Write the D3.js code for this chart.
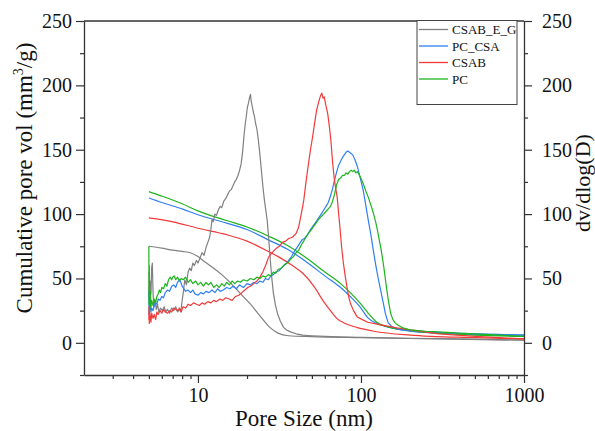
<!DOCTYPE html>
<html><head><meta charset="utf-8">
<script src="https://cdn.jsdelivr.net/npm/d3@7"></script>
<style>
html,body{margin:0;padding:0;background:#fff;}
svg{display:block;}
svg text{font-family:"Liberation Serif","DejaVu Serif",serif !important;}
</style></head>
<body><svg id="c" width="595" height="431"></svg>
<script>
// ---- data ----
const seriesNames = ["CSAB_E_G", "PC_CSA", "CSAB", "PC"];
const seriesColors = ["#808080", "#2f7ff2", "#f23a3a", "#1db41d"];
const xTickLabels = [10, 100, 1000];
const yTickLabels = [0, 50, 100, 150, 200, 250];

// cumulative pore volume [pore size nm, mm3/g]
const cumCSAB_E_G = [[5,75],[6,73.5],[7,72],[8,71],[9,70],[10,67],[11,63],[12.5,58],[14,53],[16,46],[18,39],[21,30],[24,21],[27.6,12],[31,7.5],[36,5.5],[50,4.8],[100,4],[300,3],[1000,2]];
const cumPC_CSA = [[5,112.5],[6,109],[8,104],[10,99.5],[15,93],[20,88],[27,80],[35,73],[45,64],[60,52],[75,43],[86,36],[100,27],[110,19.5],[125,15],[150,12],[200,9],[300,7.5],[500,6.5],[1000,6]];
const cumCSAB = [[5,97],[7,94],[10,89],[15,84],[20,79],[27,71],[32,66],[38,60],[44,54],[52,43],[59,32],[65,25],[71,19],[80,15],[94,12],[120,9],[200,6],[500,4],[1000,3]];
const cumPC = [[5,117.5],[6,114],[8,108],[10,102.5],[15,95],[20,90],[27,83],[35,76],[45,67],[60,55],[75,46],[86,39],[100,30],[110,23.5],[125,16],[150,12],[200,9.5],[300,7.5],[500,6],[1000,5]];

// dv/dlog(D) [pore size nm, value]
const dvCSAB_E_G = [[5.0,35],[5.02,55],[5.05,30],[5.1,48],[5.15,38],[5.2,58],[5.25,62],[5.3,40],[5.35,28],[5.45,33],[5.55,26],[5.65,30],[5.75,24],[5.9,27],[6.05,25],[6.2,28],[6.35,24],[6.5,26],[6.7,23],[6.9,27],[7.1,25],[7.3,28],[7.5,24],[7.7,26],[7.85,24],[8.0,33],[8.15,40],[8.3,49],[8.5,45],[8.7,55],[8.9,58],[9.1,56],[9.3,62],[9.5,60],[9.8,64],[10.0,62],[10.3,66],[10.6,70],[10.9,68],[11.2,74],[11.5,78],[11.8,82],[12.0,88],[12.2,96],[12.4,94],[12.7,100],[13.0,99],[13.3,103],[13.7,106],[14.0,105],[14.4,110],[14.8,112],[15.2,115],[15.6,118],[16.0,119],[16.4,122],[16.8,125],[17.2,127],[17.6,130],[18.0,134],[18.4,139],[18.7,146],[18.9,152],[19.2,162],[19.5,170],[19.8,176],[20.1,183],[20.4,186],[20.7,190],[21.0,193],[21.2,188],[21.5,184],[21.8,180],[22.2,176],[22.6,170],[23.0,166],[23.5,157],[24.0,146],[24.5,134],[25.0,122],[25.5,112],[26.0,104],[26.6,95],[27.2,80],[27.8,64],[28.4,50],[29.0,39],[29.8,30],[30.7,23],[32,17],[33.5,12],[35,10],[37,8.5],[40,7],[44,6],[50,5.5],[60,5],[80,4.5],[100,4.2],[150,3.8],[200,3.5],[300,3.2],[500,2.8],[700,2.5],[1000,2.2]];
const dvPC_CSA = [[5.0,40],[5.01,22],[5.03,38],[5.06,26],[5.1,32],[5.15,24],[5.2,27],[5.3,25],[5.4,29],[5.5,31],[5.6,30],[5.7,34],[5.85,33],[6.0,36],[6.15,35],[6.3,39],[6.5,41],[6.7,40],[6.9,44],[7.1,45],[7.3,43],[7.5,47],[7.7,49],[7.85,47],[8.0,44],[8.2,42],[8.4,40],[8.7,41],[9.0,39],[9.3,41],[9.6,38],[10.0,37],[10.4,39],[10.8,38],[11.2,40],[11.7,39],[12.2,41],[12.7,39],[13.2,42],[13.7,40],[14.3,41],[15,43],[15.7,42],[16.4,44],[17.2,42],[18,45],[19,43],[20,46],[21,45],[22,47],[23,46],[24,48],[25,47],[26,50],[27,49],[28,52],[29,53],[30,55],[31.5,56],[33,59],[34.5,61],[36,64],[37.5,67],[39,71],[40.5,74],[42,77],[43.5,80],[45,81],[47,84],[49,88],[51,91],[53,94],[55,97],[57,100],[59,103],[61,106],[63,109],[65,114],[67,120],[69,127],[71,133],[73,138],[75,141],[77,144],[79,146],[81,148],[83,149],[85,148],[87,147],[89,146],[92,142],[95,137],[99,128],[103,119],[107,107],[111,95],[115,84],[119,72],[123,61],[128,49],[132,41],[135,35],[138,29],[141,23],[144,19],[147,15.5],[155,12.5],[170,10.5],[200,9.5],[300,8],[500,7],[700,6.5],[1000,6]];
const dvCSAB = [[5.0,18],[5.01,28],[5.03,15],[5.06,24],[5.1,20],[5.15,16],[5.2,23],[5.3,19],[5.4,22],[5.5,18],[5.6,24],[5.7,22],[5.85,25],[6.0,23],[6.15,26],[6.3,24],[6.5,23],[6.7,25],[6.9,24],[7.1,27],[7.3,26],[7.5,25],[7.7,27],[7.9,24],[8.1,28],[8.4,27],[8.7,30],[9.0,29],[9.4,31],[9.8,30],[10.2,29],[10.6,31],[11.0,30],[11.5,32],[12.0,31],[12.5,33],[13.0,32],[13.6,34],[14.2,33],[14.8,35],[15.5,34],[16.2,33],[17,36],[17.8,37],[18.6,39],[19.4,41],[20.2,43],[21,44],[22,46],[23,48],[24,51],[25,55],[26,60],[27,66],[28,69],[29,71],[30,73],[31.5,75],[33,78],[34.5,79],[36,81],[38,82],[40,85],[41.5,90],[43,100],[44.5,110],[46,125],[47.5,138],[49,150],[50.5,160],[52,171],[53.5,181],[55,187],[56.5,192],[57.5,194],[58.5,190],[59.5,191],[61,184],[62.5,178],[64,168],[65.5,156],[67,140],[68.5,128],[70,120],[71.5,113],[73,100],[74.5,88],[76,75],[78,62],[80,52],[82,43.5],[84,36],[86,31],[90,25],[95,20],[102,18],[110,16],[132,14],[166,11.6],[200,10],[300,7],[500,5],[700,4],[1000,3]];
const dvPC = [[5.0,75],[5.01,30],[5.03,60],[5.06,25],[5.1,40],[5.15,28],[5.2,33],[5.3,29],[5.4,34],[5.5,31],[5.6,36],[5.7,38],[5.8,41],[5.9,39],[6.0,43],[6.15,42],[6.3,46],[6.45,44],[6.6,49],[6.75,51],[6.9,49],[7.0,51],[7.15,52],[7.3,49],[7.5,51],[7.7,48],[7.9,50],[8.1,49],[8.4,51],[8.7,47],[9.0,49],[9.3,46],[9.7,48],[10.0,45],[10.4,47],[10.8,44],[11.2,47],[11.6,45],[12.0,47],[12.5,43],[13.0,45],[13.5,43],[14.0,46],[14.5,44],[15.0,47],[15.6,45],[16.2,48],[16.8,46],[17.5,48],[18.2,47],[19,49],[20,48],[21,50],[22,49],[23,51],[24,50],[25,52],[26,51],[27,53],[28,52],[29,55],[30,54],[31,57],[32.5,58],[34,61],[35.5,62],[37,65],[38.5,67],[40,70],[41.5,72],[43,76],[44.5,79],[46,82],[47.5,85],[49,87],[51,90],[53,93],[55,96],[57,98],[59,100],[61,102],[63,104],[65,106],[67,110],[69,116],[71,123],[73,127],[75,128],[77,130],[79,130],[81,132],[83,131],[85,133],[87,134],[89,133],[91,134],[93,132],[95,133],[97,131],[99,129],[103,124],[107,118],[111,113],[115,107],[119,101],[123,94],[126,88],[129,81],[132,74.5],[135,67],[138,59],[142,47],[146,36],[149,29],[152,23],[157,18],[162,15.5],[170,13.5],[181,11.6],[200,10],[250,9],[300,8.5],[400,7.5],[500,7],[700,6],[1000,5]];

const cumSeries = [cumCSAB_E_G, cumPC_CSA, cumCSAB, cumPC];
const dvSeries = [dvCSAB_E_G, dvPC_CSA, dvCSAB, dvPC];

// ---- drawing ----
const FONT = '"Liberation Serif", "DejaVu Serif", serif';
const svg = d3.select("#c");
const L = 84, R = 524, T = 21, B = 375;
const x = d3.scaleLog().domain([2, 1000]).range([L, R]);
const y = d3.scaleLinear().domain([-25, 250]).range([B, T]);
const fontTick = 20, fontTitle = 23;

const lineCum = d3.line().x(d => x(d[0])).y(d => y(d[1])).curve(d3.curveMonotoneX);
const lineDv = d3.line().x(d => x(d[0])).y(d => y(d[1]));

const g = svg.append("g");
seriesNames.forEach((n, i) => {
  g.append("path").attr("d", lineCum(cumSeries[i])).attr("fill", "none")
    .attr("stroke", seriesColors[i]).attr("stroke-width", 1.2);
});
seriesNames.forEach((n, i) => {
  g.append("path").attr("d", lineDv(dvSeries[i])).attr("fill", "none")
    .attr("stroke", seriesColors[i]).attr("stroke-width", 1.2).attr("stroke-linejoin", "round");
});

// frame top
svg.append("line").attr("x1", L).attr("x2", R).attr("y1", T).attr("y2", T).attr("stroke", "#333").attr("stroke-width", 1.3);

function styleAxis(sel) {
  sel.attr("font-family", null).attr("font-size", null);
  sel.selectAll(".domain").attr("stroke", "#333").attr("stroke-width", 1.3);
  sel.selectAll(".tick line").attr("stroke", "#333").attr("stroke-width", 1.2);
  sel.selectAll("text").style("font-family", FONT).style("font-size", fontTick + "px").attr("fill", "#111");
}
const minorY = [-25, 25, 75, 125, 175, 225];
const minorX = [3,4,5,6,7,8,9,20,30,40,50,60,70,80,90,200,300,400,500,600,700,800,900];

// left axis
svg.append("g").attr("transform", `translate(${L},0)`)
  .call(d3.axisLeft(y).tickValues(minorY).tickSize(4).tickFormat(""))
  .call(s => s.select(".domain").remove()).call(styleAxis);
svg.append("g").attr("transform", `translate(${L},0)`)
  .call(d3.axisLeft(y).tickValues(yTickLabels).tickSize(8).tickSizeOuter(0).tickPadding(4))
  .call(styleAxis);
// right axis
svg.append("g").attr("transform", `translate(${R},0)`)
  .call(d3.axisRight(y).tickValues(minorY).tickSize(4).tickFormat(""))
  .call(s => s.select(".domain").remove()).call(styleAxis);
svg.append("g").attr("transform", `translate(${R},0)`)
  .call(d3.axisRight(y).tickValues(yTickLabels).tickSize(8).tickSizeOuter(0).tickPadding(10))
  .call(styleAxis);
// bottom axis
svg.append("g").attr("transform", `translate(0,${B})`)
  .call(d3.axisBottom(x).tickValues(minorX).tickSize(4).tickFormat(""))
  .call(s => s.select(".domain").remove()).call(styleAxis);
svg.append("g").attr("transform", `translate(0,${B})`)
  .call(d3.axisBottom(x).tickValues(xTickLabels).tickSize(8).tickSizeOuter(0).tickPadding(5).tickFormat(d3.format("d")))
  .call(styleAxis);

// titles
function txt(sel, size) { return sel.style("font-family", FONT).style("font-size", size + "px").attr("fill", "#111"); }
txt(svg.append("text").attr("x", (L + R) / 2).attr("y", 426).attr("text-anchor", "middle"), fontTitle).text("Pore Size (nm)");
const lt = txt(svg.append("text").attr("transform", `translate(32,178) rotate(-90)`).attr("text-anchor", "middle"), fontTitle);
lt.append("tspan").text("Cumulative pore vol (mm");
lt.append("tspan").style("font-size", "14px").attr("dy", -9).text("3");
lt.append("tspan").attr("dy", 9).text("/g)");
txt(svg.append("text").attr("transform", `translate(590,183) rotate(-90)`).attr("text-anchor", "middle"), 22).text("dv/dlog(D)");

// legend
const lg = svg.append("g");
lg.append("rect").attr("x", 417).attr("y", 20.5).attr("width", 100).attr("height", 84)
  .attr("fill", "#fff").attr("stroke", "#444").attr("stroke-width", 1);
const legY = [29.5, 46, 62.5, 79];
seriesNames.forEach((n, i) => {
  lg.append("line").attr("x1", 419).attr("x2", 448).attr("y1", legY[i]).attr("y2", legY[i])
    .attr("stroke", seriesColors[i]).attr("stroke-width", 1.3);
  txt(lg.append("text").attr("x", 452).attr("y", legY[i] + 4.5), 13).text(n);
});
</script></body></html>
